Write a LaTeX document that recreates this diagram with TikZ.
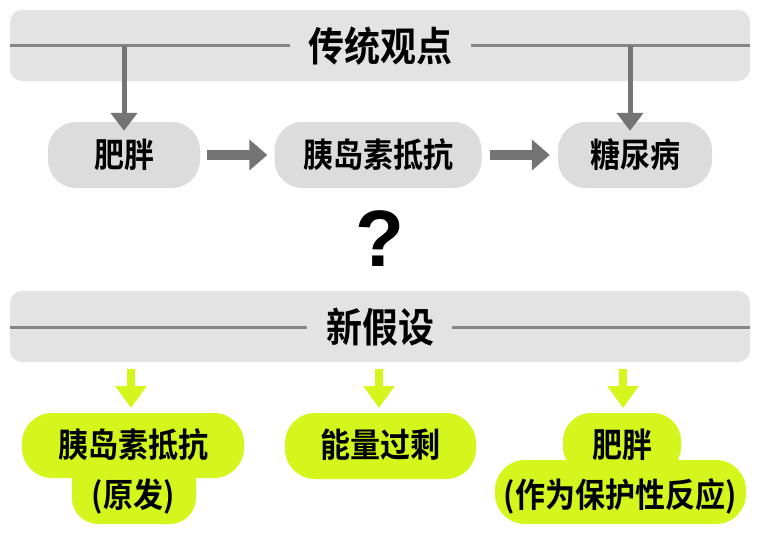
\documentclass[tikz,border=0pt]{standalone}
\usepackage{fontspec}
\setmainfont{Noto Sans CJK SC}[BoldFont={* Bold}]
\newfontfamily\cjkb{Noto Sans CJK SC Bold}
\newfontfamily\qfont{Liberation Sans Bold}
\usetikzlibrary{arrows.meta}
\newcommand{\tallt}[1]{\scalebox{1}[1.12]{#1}}
\definecolor{bannerfill}{HTML}{E3E3E3}
\definecolor{nodefill}{HTML}{DCDCDC}
\definecolor{lineg}{HTML}{858585}
\definecolor{arrg}{HTML}{747474}
\definecolor{lime}{RGB}{212,246,28}
\tikzset{
  banner/.style={fill=bannerfill, rounded corners=12pt, draw=none},
  title/.style={font=\cjkb\fontsize{36}{40}\selectfont, inner sep=0pt},
  grynode/.style={fill=nodefill, draw=none, rounded corners=28pt, minimum height=66pt, inner sep=0pt, font=\cjkb\fontsize{30}{34}\selectfont},
  gtext/.style={font=\cjkb\fontsize{30}{34}\selectfont, inner sep=0pt},
  limebox/.style={fill=lime, draw=none},
  hline/.style={draw=lineg, line width=3pt},
  garrow/.style={draw=arrg, line width=10pt, -{Triangle[width=30pt,length=18pt]}},
  darrow/.style={draw=arrg, line width=5pt, -{Triangle[width=26pt,length=18pt]}},
  larrow/.style={draw=lime, line width=8pt, -{Triangle[width=30pt,length=22pt]}},
}
\begin{document}
\begin{tikzpicture}[x=1pt,y=-1pt]
\useasboundingbox (0,0) rectangle (757,543);
\fill[white] (0,0) rectangle (757,543);
% top banner
\path[banner] (10,10) rectangle (750,81);
\node[title] (tt) at (380,46) {\tallt{传统观点}};
\coordinate (tl) at (10,46);
\coordinate (tr) at (750,46);
\draw[hline] (tl) -- (290,46);
\draw[hline] (471,46) -- (tr);
% gray nodes
\node[grynode, minimum width=152pt] (fp) at (124,155) {\tallt{肥胖}};
\node[grynode, minimum width=207pt] (ir) at (378,155) {\tallt{胰岛素抵抗}};
\node[grynode, minimum width=154pt] (db) at (635,155) {\tallt{糖尿病}};
\coordinate (a1) at (124,46);
\coordinate (a2) at (630,46);
\draw[darrow] (a1) -- ([yshift=-9pt]a1 |- fp.north);
\draw[darrow] (a2) -- ([yshift=-9pt]a2 |- db.north);
\draw[garrow] ([xshift=7pt]fp.east) -- ([xshift=-7pt]ir.west);
\draw[garrow] ([xshift=8pt]ir.east) -- ([xshift=-8pt]db.west);
% question mark
\node[font=\qfont\fontsize{80}{84}\selectfont, inner sep=0pt] (q) at (380,239) {?};
% bottom banner
\path[banner] (10,291) rectangle (750,362);
\node[title] (nt) at (380,327) {\tallt{新假设}};
\draw[hline] (10,327) -- (307,327);
\draw[hline] (452,327) -- (750,327);
% lime shapes
\fill[limebox, rounded corners=30pt] (22,413) rectangle (244,478);
\fill[limebox, rounded corners=26pt] (72,455) rectangle (196,524);
\fill[limebox, rounded corners=30pt] (285,413) rectangle (476,479);
\fill[limebox, rounded corners=28pt] (563,413) rectangle (681,475);
\fill[limebox, rounded corners=30pt] (495,460) rectangle (746,524);
\node[gtext] (g1) at (133,445) {\tallt{胰岛素抵抗}};
\node[gtext] (g1b) at (133,496) {\tallt{(原发)}};
\node[gtext] (g2) at (380,445) {\tallt{能量过剩}};
\node[gtext] (g3) at (622,445) {\tallt{肥胖}};
\node[gtext] (g3b) at (620,496) {\tallt{(作为保护性反应)}};
\coordinate (b1) at (131,369);
\coordinate (b2) at (379,369);
\coordinate (b3) at (623,369);
\draw[larrow] (b1) -- (131,408);
\draw[larrow] (b2) -- (379,408);
\draw[larrow] (b3) -- (623,408);
\end{tikzpicture}
\end{document}
